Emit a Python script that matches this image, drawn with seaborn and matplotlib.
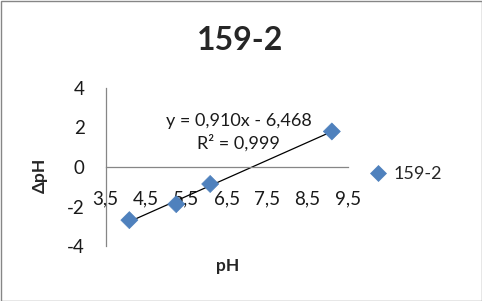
import matplotlib
matplotlib.use("Agg")
import matplotlib.pyplot as plt
import seaborn as sns
import numpy as np
import pandas as pd
from matplotlib.patches import Rectangle

# Data
series_name = "159-2"
ph = [4.09, 5.25, 6.09, 9.10]
dph = [-2.69, -1.88, -0.86, 1.80]
x_ticks = [3.5, 4.5, 5.5, 6.5, 7.5, 8.5, 9.5]
y_ticks = [-4, -2, 0, 2, 4]
eq_text = "y = 0,910x - 6,468"
r2_text = "R² = 0,999"

sns.set_theme(style="white")
plt.rcParams['font.family'] = ['Lato', 'DejaVu Sans']

df = pd.DataFrame({"pH": ph, "dpH": dph, "series": series_name})

fig = plt.figure(figsize=(4.82, 3.01), dpi=100)
fig.patch.set_facecolor("white")
ax = fig.add_axes([105.5/482, 1-246/301, (348-105.5)/482, (246-88)/301])

blue = "#4F81BD"
sns.regplot(data=df, x="pH", y="dpH", ax=ax, ci=None, truncate=True, scatter=False,
            line_kws=dict(color="black", lw=0.9))
sns.scatterplot(data=df, x="pH", y="dpH", hue="series", palette=[blue], marker="D",
                s=75, edgecolor=blue, linewidth=0.5, ax=ax, zorder=3)

ax.set_xlim(3.5, 9.5)
ax.set_ylim(-4, 4)
ax.set_xticks(x_ticks)
ax.set_xticklabels([f"{v:.1f}".replace(".", ",") for v in x_ticks])
ax.set_yticks(y_ticks)
ax.set_yticklabels([str(v) for v in y_ticks])

gray = "#868686"
for s in ["top", "right"]:
    ax.spines[s].set_visible(False)
ax.spines["bottom"].set_position(("data", 0))
ax.spines["left"].set_color(gray)
ax.spines["bottom"].set_color(gray)
ax.spines["left"].set_linewidth(0.9)
ax.spines["bottom"].set_linewidth(0.9)
ax.tick_params(axis="both", which="both", direction="out", length=5, width=0.9,
               color=gray, labelsize=13.5, labelcolor="#1a1a1a")
ax.tick_params(axis="x", pad=12)
ax.tick_params(axis="y", pad=10)
ax.patch.set_alpha(0)

ax.set_xlabel("")
ax.set_ylabel("")
fig.text(228/482, 1-266/301, "pH", ha="center", va="center", fontsize=12.5, fontweight="bold")
fig.text(40/482, 1-175/301, "ΔpH", ha="center", va="center", fontsize=12.5,
         fontweight="bold", rotation=90)
fig.text(240/482, 1-41/301, series_name, ha="center", va="center", fontsize=23,
         fontweight="bold")

ax.text(6.8, 2.33, eq_text, ha="center", va="center", fontsize=13, color="#1a1a1a")
ax.text(6.8, 1.22, r2_text, ha="center", va="center", fontsize=13, color="#1a1a1a")

leg = ax.legend(loc="center left", bbox_to_anchor=(1.055, 0.455), frameon=False,
                fontsize=13, handlelength=1.0, handletextpad=0.4, markerscale=0.9,
                borderaxespad=0)

fig.add_artist(Rectangle((0.5/482, 0.5/301), 1-1/482, 1-1/301, transform=fig.transFigure,
                         fill=False, edgecolor="#868686", lw=1))

fig.savefig("out.png", dpi=100)
